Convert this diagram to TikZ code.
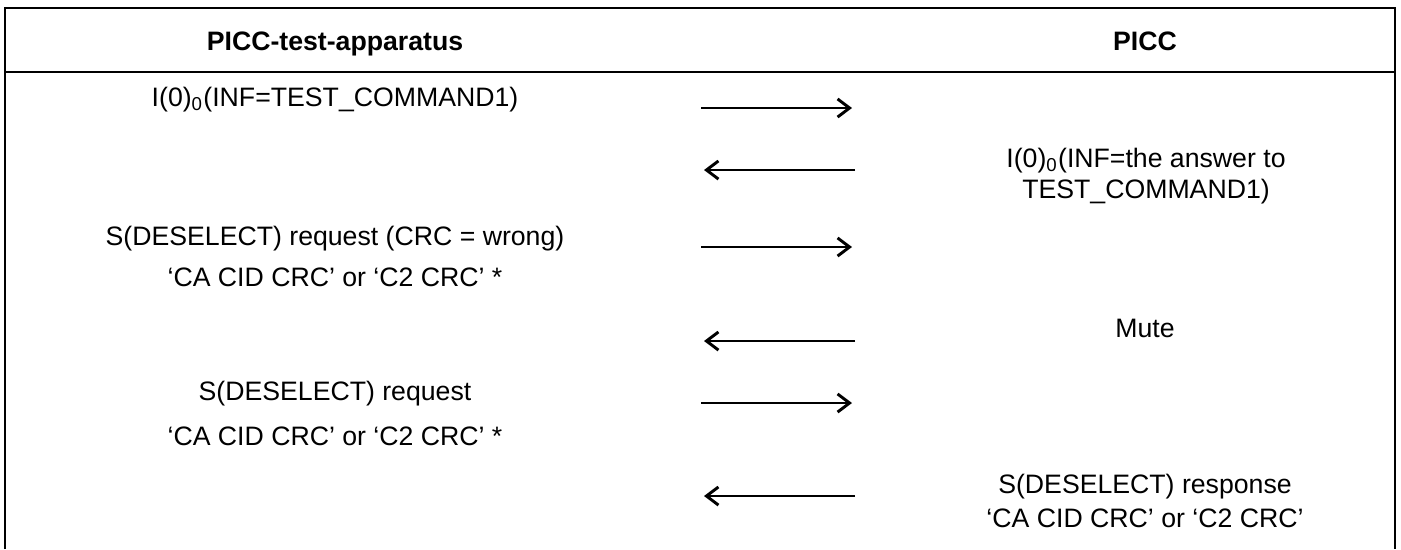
\documentclass[tikz,border=0pt]{standalone}
\usepackage{fontspec}
\setmainfont{Liberation Sans}
\usetikzlibrary{arrows.meta}

\begin{document}
\begin{tikzpicture}[
  x=0.375pt, y=-0.375pt,
  frame/.style={draw, line width=1pt},
  msg/.style={anchor=base, inner sep=0pt, align=center, font=\fontsize{10}{11.6}\selectfont},
  hdr/.style={msg, font=\fontsize{10}{11.6}\selectfont\bfseries},
  flow/.style={draw, line width=1.1pt, -{Straight Barb[length=4.5pt,width=6.8pt,line width=1.1pt]}}
]
  \useasboundingbox (0,0) rectangle (1401,549);

  % table frame, open at the bottom
  \draw[frame] (5,549) -- (5,8) -- (1395,8) -- (1395,549);
  \draw[frame] (5,72) -- (1395,72);

  % column heads
  \node[hdr] (headPT) at (335,50) {PICC-test-apparatus};
  \node[hdr] (headPICC) at (1145,50) {PICC};

  % test apparatus side
  \node[msg] (cmdI) at (335,106) {I(0)\textsubscript{0}(INF=TEST\_COMMAND1)};
  \node[msg] (deselW) at (335,245) {S(DESELECT) request (CRC = wrong)};
  \node[msg] (deselWc) at (335,286) {‘CA CID CRC’ or ‘C2 CRC’ *};
  \node[msg] (deselR) at (335,400) {S(DESELECT) request};
  \node[msg] (deselRc) at (335,445) {‘CA CID CRC’ or ‘C2 CRC’ *};

  % PICC side
  \node[msg] (ansI) at (1146,198) {I(0)\textsubscript{0}(INF=the answer to\\TEST\_COMMAND1)};
  \node[msg] (mute) at (1145,337) {Mute};
  \node[msg] (deselA) at (1145,493) {S(DESELECT) response};
  \node[msg] (deselAc) at (1145,527) {‘CA CID CRC’ or ‘C2 CRC’};

  % arrow ends
  \coordinate (pL1) at (701,108);  \coordinate (pR1) at (852,108);
  \coordinate (pL2) at (704,170);  \coordinate (pR2) at (855,170);
  \coordinate (pL3) at (701,247);  \coordinate (pR3) at (852,247);
  \coordinate (pL4) at (704,341);  \coordinate (pR4) at (855,341);
  \coordinate (pL5) at (701,403);  \coordinate (pR5) at (852,403);
  \coordinate (pL6) at (704,496);  \coordinate (pR6) at (855,496);

  \foreach \i in {1,3,5}
    \draw[flow] (pL\i) -- (pR\i);
  \foreach \i in {2,4,6}
    \draw[flow] (pR\i) -- (pL\i);
\end{tikzpicture}
\end{document}
